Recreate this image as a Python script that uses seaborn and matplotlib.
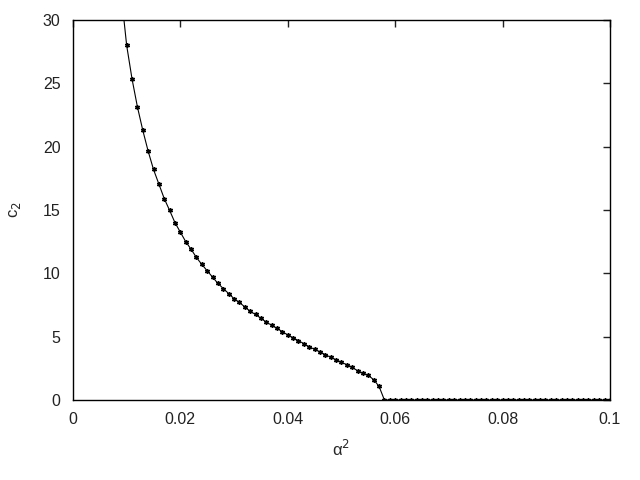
import numpy as np
import pandas as pd
import matplotlib
matplotlib.use("Agg")
import matplotlib.pyplot as plt
import seaborn as sns

# alpha^2 grid, step 0.001
alpha_sq = [round(0.009 + 0.001 * i, 3) for i in range(92)]

# c2 values (0.009 .. 0.058), then zero up to 0.100
c2_head = [
    32.0, 28.0, 25.35, 23.15, 21.3, 19.65, 18.2, 17.05, 15.9, 14.97,
    14.0, 13.25, 12.5, 11.9, 11.25, 10.7, 10.2, 9.7, 9.2, 8.8,
    8.4, 8.0, 7.7, 7.35, 7.0, 6.75, 6.45, 6.15, 5.9, 5.65,
    5.4, 5.13, 4.92, 4.68, 4.45, 4.2, 4.0, 3.8, 3.58, 3.37,
    3.18, 2.97, 2.79, 2.58, 2.31, 2.1, 1.95, 1.6, 1.08, 0.0,
]
c2 = c2_head + [0.0] * (len(alpha_sq) - len(c2_head))

x_ticks = [0, 0.02, 0.04, 0.06, 0.08, 0.1]
x_tick_labels = ["0", "0.02", "0.04", "0.06", "0.08", "0.1"]
y_ticks = [0, 5, 10, 15, 20, 25, 30]

df = pd.DataFrame({"alpha2": alpha_sq, "c2": c2})

sns.set_style("white")
plt.rcParams["font.family"] = ["Liberation Sans", "DejaVu Sans"]

fig = plt.figure(figsize=(6.4, 4.8), dpi=100)
ax = fig.add_axes([0.114, 0.1667, 0.839, 0.7916])

sns.lineplot(data=df, x="alpha2", y="c2", ax=ax, color="black", linewidth=0.8,
             marker=(6, 2, 0), markersize=3.5, markeredgewidth=1.0,
             markeredgecolor="black", sort=False)

ax.set_xlim(0, 0.1)
ax.set_ylim(0, 30)
ax.set_xticks(x_ticks)
ax.set_xticklabels(x_tick_labels)
ax.set_yticks(y_ticks)
ax.tick_params(direction="in", length=5, width=1, top=True, right=True,
               labelsize=11.5, colors="#222222", pad=9)
for s in ax.spines.values():
    s.set_visible(True)
    s.set_color("black")
    s.set_linewidth(1)

ax.set_xlabel("α$^2$", fontsize=12, labelpad=8)
ax.set_ylabel("c$_2$", fontsize=12, labelpad=14)

fig.savefig("out.png", dpi=100)
